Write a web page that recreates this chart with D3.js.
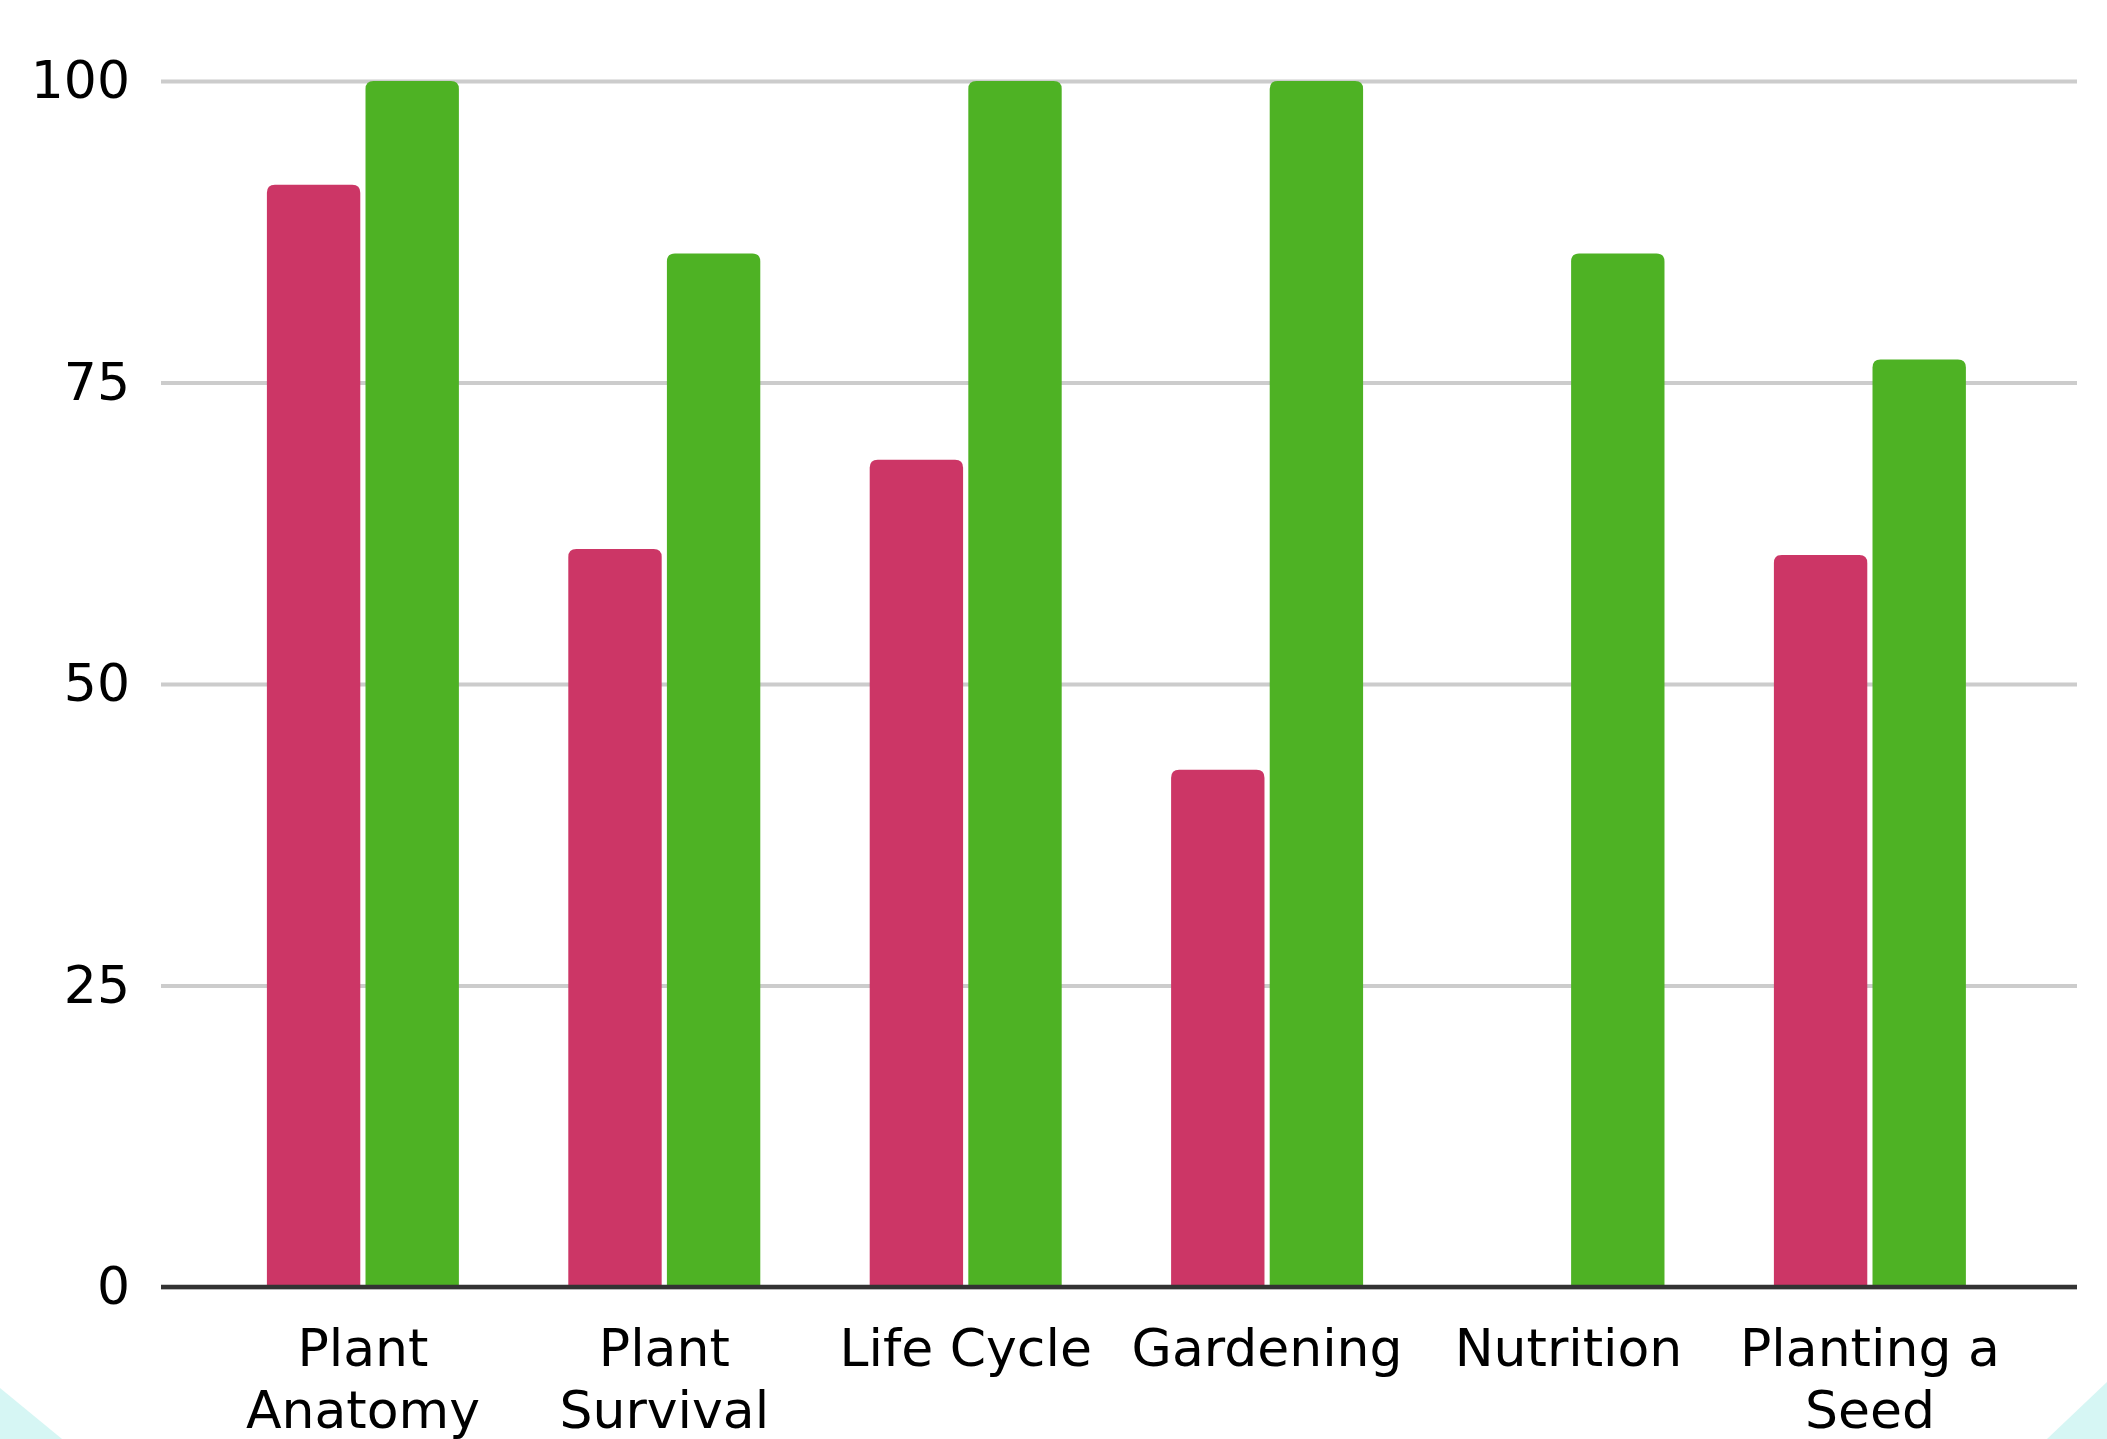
<!DOCTYPE html>
<html>
<head>
<meta charset="utf-8">
<script src="https://cdn.jsdelivr.net/npm/d3@7"></script>
<style>
  html, body { margin: 0; padding: 0; background: #ffffff; }
  svg { display: block; }
  text { font-family: "Comic Sans MS", "DejaVu Sans", sans-serif; fill: #000; }
</style>
</head>
<body>
<script>
const categories = ["Plant Anatomy", "Plant Survival", "Life Cycle", "Gardening", "Nutrition", "Planting a Seed"];
const categoryLines = [["Plant", "Anatomy"], ["Plant", "Survival"], ["Life Cycle"], ["Gardening"], ["Nutrition"], ["Planting a", "Seed"]];
const seriesNames = ["pre", "post"];
const preValues = [91.4, 61.2, 68.6, 42.9, 0, 60.7];
const postValues = [100, 85.7, 100, 100, 85.7, 76.9];
const yTicks = [0, 25, 50, 75, 100];
const colors = { pre: "#cc3666", post: "#4eb224" };

const W = 2107, H = 1439;
const mLeft = 161, mRight = 2077, mTop = 81, mBottom = 1287;

const svg = d3.select("body").append("svg").attr("width", W).attr("height", H);

// background corner decorations
svg.append("path").attr("d", "M0,1388 L0,1439 L62,1439 Z").attr("fill", "#d6f6f4");
svg.append("path").attr("d", "M2107,1382 L2107,1439 L2047,1439 Z").attr("fill", "#d6f6f4");

const y = d3.scaleLinear().domain([0, 100]).range([mBottom, mTop]);
const x0 = d3.scaleBand().domain(categories).range([mLeft, mRight]).paddingInner(0.363).paddingOuter(0.36).align(0.488);
const x1 = d3.scaleBand().domain(seriesNames).range([0, x0.bandwidth()]).paddingInner(0.053);

// gridlines + y labels
const yAxis = svg.append("g").attr("transform", `translate(${mLeft},0)`)
  .call(d3.axisLeft(y).tickValues(yTicks).tickSize(-(mRight - mLeft)).tickPadding(31).tickFormat(d3.format("d")));
yAxis.select(".domain").remove();
yAxis.selectAll(".tick line").attr("stroke", "#cccccc").attr("stroke-width", 4);
yAxis.selectAll(".tick text").attr("font-size", 52).attr("fill", "#000")
  .style("font-family", '"Comic Sans MS", "DejaVu Sans", sans-serif');

// bars
const rows = categories.map((c, i) => ({ cat: c, pre: preValues[i], post: postValues[i] }));
function topRounded(x, yTop, w, yBase, r) {
  const h = yBase - yTop;
  const rr = Math.min(r, h, w / 2);
  return `M${x},${yBase} L${x},${yTop + rr} Q${x},${yTop} ${x + rr},${yTop} L${x + w - rr},${yTop} Q${x + w},${yTop} ${x + w},${yTop + rr} L${x + w},${yBase} Z`;
}
const groups = svg.append("g").selectAll("g").data(rows).join("g")
  .attr("transform", d => `translate(${x0(d.cat)},0)`);
groups.selectAll("path")
  .data(d => seriesNames.map(k => ({ key: k, value: d[k] })).filter(e => e.value > 0))
  .join("path")
  .attr("fill", e => colors[e.key])
  .attr("d", e => topRounded(x1(e.key), y(e.value), x1.bandwidth(), y(0), 8));

// baseline
svg.append("line").attr("x1", mLeft).attr("x2", mRight).attr("y1", y(0)).attr("y2", y(0))
  .attr("stroke", "#333333").attr("stroke-width", 4.5);

// x labels
const xl = svg.append("g").selectAll("text").data(categories).join("text")
  .attr("text-anchor", "middle")
  .attr("font-size", 52)
  .attr("x", d => x0(d) + x0.bandwidth() / 2)
  .attr("y", 1366);
xl.each(function (d, i) {
  const t = d3.select(this);
  categoryLines[i].forEach((ln, j) => {
    t.append("tspan").attr("x", x0(d) + x0.bandwidth() / 2).attr("dy", j === 0 ? 0 : 62).text(ln);
  });
});
</script>
</body>
</html>
